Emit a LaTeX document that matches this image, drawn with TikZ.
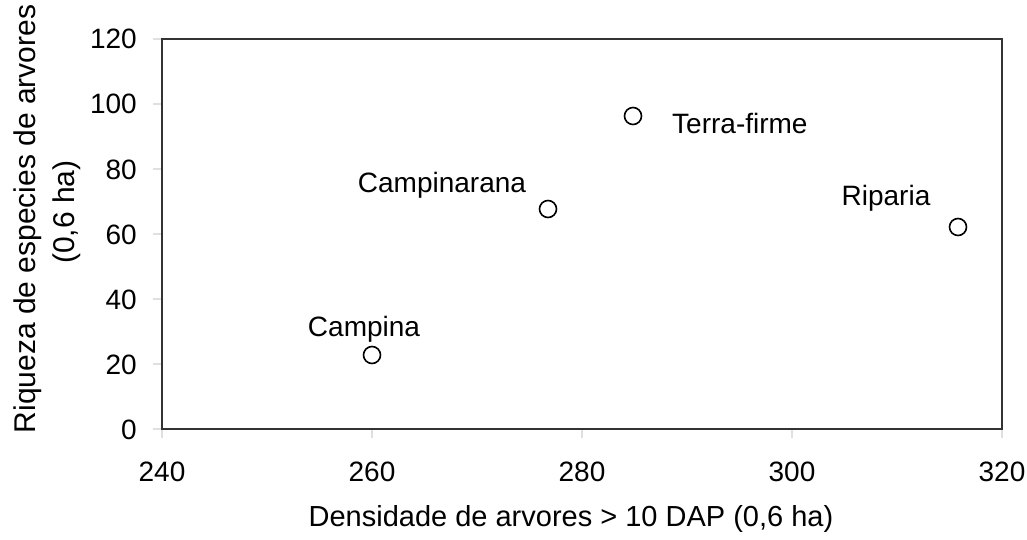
\documentclass[tikz,border=0pt]{standalone}
\usepackage{fontspec}
\setmainfont{Liberation Sans}
\begin{document}
\begin{tikzpicture}[x=1pt,y=-1pt,
  txt/.style={font=\fontsize{28}{34}\selectfont, inner sep=0pt},
  ttl/.style={font=\fontsize{29}{35}\selectfont, inner sep=0pt},
  pt/.style={circle, draw=black, line width=1.6pt, minimum size=17pt, inner sep=0pt},
  tickm/.style={draw=black!12, line width=1.2pt},
  frame/.style={draw=black!80, line width=2pt}]
\useasboundingbox (0,0) rectangle (1027,540);
% ticks
\foreach \v in {0,20,...,120} {
  \draw[tickm] (153,{429-3.25*\v}) -- (161,{429-3.25*\v});
  \node[txt, anchor=base east] (yl\v) at (137,{429-3.25*\v+10}) {\v};
}
\foreach \v in {240,260,...,320} {
  \draw[tickm] ({162+10.5*(\v-240)},430) -- ({162+10.5*(\v-240)},438);
  \node[txt, anchor=base] (xl\v) at ({162+10.5*(\v-240)},481) {\v};
}
% frame
\draw[frame] (162,39) rectangle (1002,429);
% points
\node[pt] (p1) at (372,355) {};
\node[pt] (p2) at (548,209) {};
\node[pt] (p3) at (633,116) {};
\node[pt] (p4) at (958,227) {};
% labels
\node[txt, anchor=base] (l1) at (364,336) {Campina};
\node[txt, anchor=base] (l2) at (442,193) {Campinarana};
\node[txt, anchor=base west] (l3) at (672,134) {Terra-firme};
\node[txt, anchor=base] (l4) at (886,205) {Riparia};
% axis titles
\node[ttl, anchor=base] (xt) at (571,526) {Densidade de arvores > 10 DAP (0,6 ha)};
\node[ttl, font=\fontsize{30}{36}\selectfont, anchor=base, rotate=90] (yt1) at (35,219) {Riqueza de especies de arvores};
\node[ttl, font=\fontsize{30}{36}\selectfont, anchor=base, rotate=90] (yt2) at (74,212) {(0,6 ha)};
\end{tikzpicture}
\end{document}
